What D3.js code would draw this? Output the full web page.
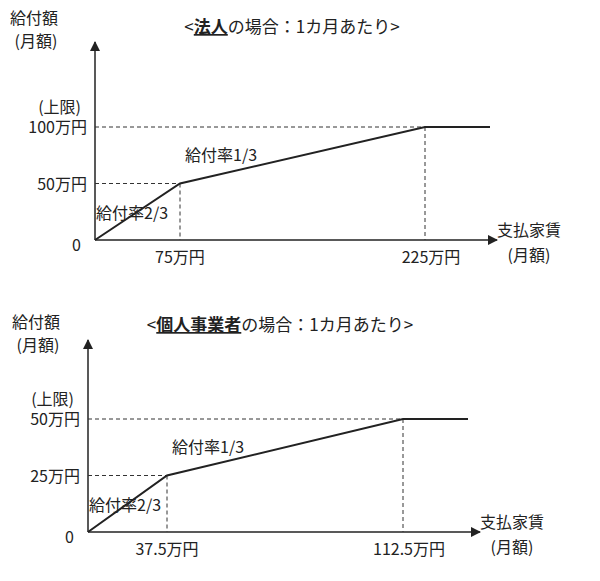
<!DOCTYPE html><html><head><meta charset="utf-8">
<script src="https://d3js.org/d3.v7.min.js"></script>
<style>body{margin:0;background:#fff}text{font-family:"Noto Sans CJK JP",sans-serif;font-size:16px;fill:#222}</style>
</head><body><svg width="600" height="581"></svg>
<script>
// Panel 1: 法人
const corpX = [0, 75, 225];          // 支払家賃 (万円)
const corpY = [0, 50, 100];          // 給付額 (万円)
const corpTicksX = ["75万円", "225万円"];
const corpTicksY = ["50万円", "100万円"];
// Panel 2: 個人事業者
const soleX = [0, 37.5, 112.5];
const soleY = [0, 25, 50];
const soleTicksX = ["37.5万円", "112.5万円"];
const soleTicksY = ["25万円", "50万円"];
const rates = ["給付率2/3", "給付率1/3"];

const svg = d3.select("svg");
svg.append("defs").append("marker").attr("id","arr").attr("viewBox","0 0 10 10")
  .attr("refX",9).attr("refY",5).attr("markerWidth",7).attr("markerHeight",7).attr("orient","auto")
  .append("path").attr("d","M0,0L10,5L0,10z").attr("fill","#222");

function panel(o){
  const xs=o.xv, ys=o.yv;
  const x=d3.scaleLinear().domain([xs[0],xs[1],xs[2],xs[2]*o.ext]).range([o.x0,o.x1,o.x2,o.xe]);
  const y=d3.scaleLinear().domain([0,ys[2]]).range([o.y0,o.ytop]);
  const g=svg.append("g");
  g.append("line").attr("x1",x(0)).attr("y1",y(0)).attr("x2",o.xa).attr("y2",y(0)).attr("stroke","#222").attr("stroke-width",1.5).attr("marker-end","url(#arr)");
  g.append("line").attr("x1",x(0)).attr("y1",y(0)).attr("x2",x(0)).attr("y2",o.ya).attr("stroke","#222").attr("stroke-width",1.5).attr("marker-end","url(#arr)");
  [1,2].forEach(i=>{
    g.append("line").attr("x1",x(0)).attr("x2",x(xs[i])).attr("y1",y(ys[i])).attr("y2",y(ys[i])).attr("stroke","#333").attr("stroke-dasharray","4,3");
    g.append("line").attr("x1",x(xs[i])).attr("x2",x(xs[i])).attr("y1",y(ys[i])).attr("y2",y(0)).attr("stroke","#333").attr("stroke-dasharray","4,3");
  });
  const pts=[[xs[0],ys[0]],[xs[1],ys[1]],[xs[2],ys[2]],[xs[2]*o.ext,ys[2]]];
  g.append("path").attr("d",d3.line().x(d=>x(d[0])).y(d=>y(d[1]))(pts)).attr("fill","none").attr("stroke","#222").attr("stroke-width",2);
  const t=(s,px,py,a)=>g.append("text").attr("x",px).attr("y",py).attr("text-anchor",a||"start").text(s);
  t("0",x(0)-14,y(0)+11,"end");
  t(o.ty[0],x(0)-8,y(ys[1])+6,"end");
  t(o.ty[1],x(0)-8,y(ys[2])+6,"end");
  t("(上限)",x(0)-14,y(ys[2])-14,"end");
  t(o.tx[0],x(xs[1]),y(0)+23,"middle");
  t(o.tx[1],x(xs[2])+6,y(0)+23,"middle");
  t(rates[0],x(0)+1,y(ys[1])+35);
  t(rates[1],x(xs[1])+5,y(ys[1])-23);
  t("支払家賃",o.xa+32,y(0)-4,"middle");
  t("(月額)",o.xa+32,y(0)+21,"middle");
  t("給付額",o.lx,o.ly,"middle");
  t("(月額)",o.lx+2,o.ly+23,"middle");
  const tt=g.append("text").attr("x",o.tcx).attr("y",o.tcy).attr("text-anchor","middle").style("font-size","17px");
  tt.append("tspan").text("<");
  tt.append("tspan").attr("font-weight","bold").attr("text-decoration","underline").text(o.who);
  tt.append("tspan").text("の場合：1カ月あたり>");
}
panel({xv:corpX,yv:corpY,tx:corpTicksX,ty:corpTicksY,ext:1.18,x0:95,x1:180,x2:425,xe:490,xa:497,
  y0:240,ytop:127,ya:42,lx:34,ly:24,tcx:292,tcy:33,who:"法人"});
panel({xv:soleX,yv:soleY,tx:soleTicksX,ty:soleTicksY,ext:1.18,x0:88,x1:167,x2:403,xe:468,xa:480,
  y0:532,ytop:419,ya:340,lx:36,ly:328,tcx:280,tcy:331,who:"個人事業者"});
</script></body></html>
